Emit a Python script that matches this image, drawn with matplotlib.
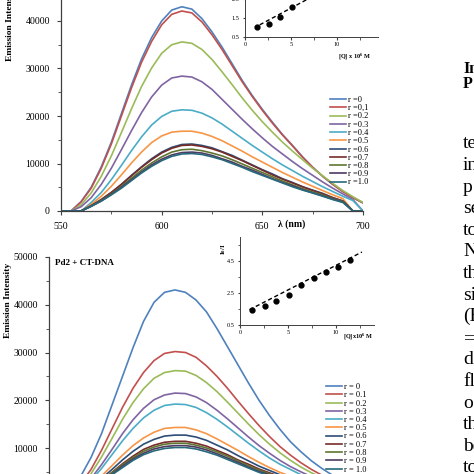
import matplotlib
matplotlib.use('Agg')
from matplotlib import pyplot as plt
from matplotlib.ticker import MultipleLocator
import numpy

plt.rcParams['font.family'] = ['Liberation Serif', 'DejaVu Serif']
plt.rcParams['mathtext.fontset'] = 'custom'
plt.rcParams['mathtext.rm'] = 'Liberation Serif'
plt.rcParams['mathtext.it'] = 'Liberation Serif:italic'
plt.rcParams['mathtext.bf'] = 'Liberation Serif:bold'
plt.rcParams['mathtext.default'] = 'regular'

# wavelength grid (nm)
wavelength = [550, 555, 560, 565, 570, 575, 580, 585, 590, 595, 600,
              605, 610, 615, 620, 625, 630, 635, 640, 645, 650,
              655, 660, 665, 670, 675, 680, 685, 690, 695, 700]

# upper panel, emission intensity / 1000
top_00 = [0, 0, 2.0, 5.0, 9.3, 14.5, 20.5, 26.5, 32.0, 36.5, 40.0, 42.3, 43.0, 42.5, 40.5, 37.7,
          34.5, 31.0, 27.5, 24.3, 21.4, 18.7, 16.1, 13.8, 11.4, 9.2, 7.3, 5.6, 4.1, 2.8, 1.7]
top_01 = [0, 0, 1.9, 4.8, 9.0, 14.1, 20.0, 25.9, 31.3, 35.7, 39.2, 41.4, 42.1, 41.7, 39.8, 37.1,
          34.0, 30.6, 27.2, 24.1, 21.2, 18.5, 16.0, 13.7, 11.3, 9.2, 7.3, 5.6, 4.1, 2.8, 1.7]
top_02 = [0, 0, 1.3, 3.8, 7.3, 11.6, 16.5, 21.5, 26.2, 30.1, 33.2, 35.0, 35.6, 35.3, 34.0, 31.9,
          29.3, 26.6, 23.8, 21.2, 18.8, 16.6, 14.5, 12.6, 10.8, 9.0, 7.4, 5.8, 4.3, 3.0, 1.8]
top_03 = [0, 0, 0.9, 2.8, 5.6, 9.0, 12.9, 16.9, 20.7, 24.0, 26.5, 28.0, 28.4, 28.2, 27.2, 25.6,
          23.5, 21.4, 19.3, 17.3, 15.4, 13.6, 12.0, 10.4, 8.9, 7.5, 6.1, 4.8, 3.6, 2.4, 0]
top_04 = [0, 0, 0, 1.8, 3.9, 6.6, 9.6, 12.7, 15.6, 18.1, 19.9, 21.0, 21.3, 21.2, 20.6, 19.6,
          18.3, 16.8, 15.3, 13.8, 12.4, 11.0, 9.7, 8.5, 7.3, 6.2, 5.1, 4.1, 3.1, 2.2, 0]
top_05 = [0, 0, 0, 1.4, 3.1, 5.2, 7.6, 10.1, 12.4, 14.4, 15.8, 16.6, 16.8, 16.8, 16.4, 15.7,
          14.8, 13.7, 12.6, 11.4, 10.3, 9.2, 8.1, 7.1, 6.1, 5.2, 4.3, 3.4, 2.6, 0, 0]
top_06 = [0, 0, 0, 1.1, 2.4, 3.9, 5.6, 7.5, 9.3, 11.0, 12.4, 13.4, 14.0, 14.1, 13.8, 13.3,
          12.5, 11.7, 10.7, 9.7, 8.7, 7.8, 6.8, 6.0, 5.1, 4.4, 3.7, 2.8, 2.1, 0, 0]
top_07 = [0, 0, 0, 1.1, 2.4, 3.9, 5.6, 7.4, 9.2, 10.8, 12.2, 13.2, 13.8, 13.9, 13.6, 13.1,
          12.4, 11.5, 10.6, 9.6, 8.6, 7.6, 6.7, 5.9, 5.1, 4.3, 3.6, 2.8, 2.1, 0, 0]
top_08 = [0, 0, 0, 1.0, 2.2, 3.6, 5.2, 6.9, 8.6, 10.1, 11.4, 12.4, 12.9, 13.0, 12.7, 12.2,
          11.6, 10.8, 9.9, 9.0, 8.1, 7.2, 6.3, 5.5, 4.7, 4.0, 3.4, 2.6, 2.0, 0, 0]
top_09 = [0, 0, 0, 1.0, 2.1, 3.5, 5.0, 6.6, 8.2, 9.7, 10.9, 11.8, 12.3, 12.4, 12.2, 11.7,
          11.0, 10.3, 9.4, 8.6, 7.7, 6.8, 6.0, 5.3, 4.5, 3.8, 3.2, 2.5, 1.9, 0, 0]
top_10 = [0, 0, 0, 1.0, 2.1, 3.4, 4.8, 6.4, 8.0, 9.4, 10.6, 11.5, 12.0, 12.1, 11.9, 11.4,
          10.8, 10.0, 9.2, 8.3, 7.5, 6.7, 5.9, 5.1, 4.4, 3.8, 3.1, 2.4, 1.8, 0, 0]

# lower panel (Pd2 + CT-DNA), emission intensity / 1000
bot_00 = [0, 0, 1.5, 4.0, 8.0, 13.0, 19.0, 25.0, 31.0, 36.5, 40.5, 42.6, 43.1, 42.6, 41.0, 38.5,
          35.0, 31.2, 27.4, 23.6, 20.0, 16.8, 13.9, 11.3, 9.2, 7.3, 5.7, 4.3, 3.1, 2.0, 1.2]
bot_01 = [0, 0, 0, 2.5, 5.5, 9.5, 14.0, 18.5, 22.5, 25.8, 28.3, 29.8, 30.2, 30.0, 29.0, 27.2,
          25.0, 22.5, 19.8, 17.2, 14.7, 12.4, 10.3, 8.5, 6.9, 5.5, 4.3, 3.3, 2.4, 1.6, 1.0]
bot_02 = [0, 0, 0, 2.0, 4.6, 8.1, 12.0, 16.0, 19.5, 22.4, 24.6, 25.8, 26.2, 26.1, 25.2, 23.7,
          21.8, 19.6, 17.3, 15.0, 12.8, 10.8, 9.0, 7.4, 6.0, 4.8, 3.8, 2.9, 2.1, 1.4, 0.9]
bot_03 = [0, 0, 0, 1.5, 3.6, 6.5, 9.7, 13.0, 15.9, 18.3, 20.1, 21.1, 21.5, 21.4, 20.7, 19.5,
          17.9, 16.1, 14.2, 12.3, 10.5, 8.9, 7.4, 6.1, 5.0, 4.0, 3.1, 2.4, 1.7, 1.2, 0.7]
bot_04 = [0, 0, 0, 1.3, 3.2, 5.7, 8.6, 11.5, 14.1, 16.3, 17.9, 18.9, 19.2, 19.1, 18.5, 17.4,
          16.0, 14.4, 12.7, 11.0, 9.4, 7.9, 6.6, 5.5, 4.4, 3.5, 2.8, 2.1, 1.5, 1.0, 0.6]
bot_05 = [0, 0, 0, 1.0, 2.3, 4.1, 6.3, 8.5, 10.5, 12.1, 13.3, 14.1, 14.3, 14.3, 13.8, 13.0,
          11.9, 10.7, 9.5, 8.2, 7.0, 5.9, 4.9, 4.1, 3.3, 2.6, 2.1, 1.6, 1.1, 0.8, 0.5]
bot_06 = [0, 0, 0, 0.8, 2.0, 3.6, 5.5, 7.5, 9.3, 10.8, 11.8, 12.5, 12.7, 12.7, 12.3, 11.6,
          10.6, 9.6, 8.4, 7.3, 6.2, 5.3, 4.4, 3.6, 2.9, 2.3, 1.8, 1.4, 1.0, 0.7, 0.4]
bot_07 = [0, 0, 0, 0.7, 1.8, 3.2, 4.9, 6.7, 8.3, 9.7, 10.6, 11.2, 11.4, 11.4, 11.0, 10.4,
          9.5, 8.6, 7.5, 6.6, 5.6, 4.8, 4.0, 3.2, 2.6, 2.1, 1.6, 1.3, 0.9, 0.6, 0.4]
bot_08 = [0, 0, 0, 0.7, 1.7, 3.1, 4.8, 6.5, 8.0, 9.3, 10.2, 10.8, 11.0, 11.0, 10.6, 10.0,
          9.2, 8.3, 7.3, 6.3, 5.4, 4.6, 3.8, 3.1, 2.5, 2.0, 1.6, 1.2, 0.9, 0.6, 0.4]
bot_09 = [0, 0, 0, 0.7, 1.7, 3.0, 4.5, 6.2, 7.7, 8.9, 9.8, 10.3, 10.5, 10.5, 10.2, 9.6,
          8.8, 7.9, 7.0, 6.0, 5.1, 4.4, 3.6, 3.0, 2.4, 1.9, 1.5, 1.1, 0.8, 0.6, 0.3]
bot_10 = [0, 0, 0, 0.6, 1.6, 2.9, 4.4, 5.9, 7.4, 8.6, 9.4, 9.9, 10.1, 10.1, 9.8, 9.2,
          8.5, 7.6, 6.7, 5.8, 4.9, 4.2, 3.5, 2.9, 2.3, 1.8, 1.4, 1.1, 0.8, 0.5, 0.3]

top_labels = ['r =0', 'r =0,1', 'r =0.2', 'r =0.3', 'r =0.4', 'r =0.5',
              'r =0.6', 'r =0.7', 'r =0.8', 'r =0.9', 'r =1.0']
bot_labels = ['r = 0', 'r = 0.1', 'r = 0.2', 'r = 0.3', 'r = 0.4', 'r = 0.5',
              'r = 0.6', 'r = 0.7', 'r = 0.8', 'r = 0.9', 'r = 1.0']

colors = ['#4F81BD', '#C0504D', '#9BBB59', '#8064A2', '#4BACC6', '#F79646',
          '#2C4D75', '#772C2A', '#5F7530', '#4D3B62', '#276A7C']

# Stern-Volmer insets: [Q] x 10^6 M vs I0/I
top_q = [1.3, 2.6, 3.8, 5.1]
top_ratio = [1.03, 1.18, 1.57, 2.1]
top_fit_q = [1.6, 13.0]
top_fit_ratio = [1.14, 4.1]

bot_q = [1.3, 2.6, 3.8, 5.1, 6.35, 7.7, 8.96, 10.2, 11.5]
bot_ratio = [1.42, 1.67, 2.02, 2.39, 2.97, 3.42, 3.84, 4.1, 4.54]
bot_fit_q = [1.0, 12.7]
bot_fit_ratio = [1.46, 5.06]

# right-hand page text that is cut by the crop
heading = ['In', 'P']
body = ['te', 'in', 'p', 'se', 'to', 'N', 'th', 'si', '(F', '=',
        'd', 'fl', 'o', 'th', 'be', 'to']

W = 474.0


def px(x, y, w, h):
    # pixel box (left, top-of-data-range, width, height) -> figure fraction
    return [x / W, 1 - (y + h) / W, w / W, h / W]


def styleMain(ax):
    for s in ['top', 'right']:
        ax.spines[s].set_visible(False)
    for s in ['left', 'bottom']:
        ax.spines[s].set_color('#404040')
        ax.spines[s].set_linewidth(0.9)
    ax.set_xlim(550, 700)
    ax.set_ylim(0, 50000)
    ax.xaxis.set_major_locator(MultipleLocator(50))
    ax.xaxis.set_minor_locator(MultipleLocator(25))
    ax.yaxis.set_major_locator(MultipleLocator(10000))
    ax.yaxis.set_minor_locator(MultipleLocator(5000))
    ax.tick_params(which='both', direction='out', color='#404040', labelsize=7)
    ax.tick_params(which='major', length=3, pad=5)
    ax.tick_params(which='minor', length=2)


def styleInset(ax, ymax, xmax):
    ax.patch.set_alpha(0)
    for s in ['top', 'right']:
        ax.spines[s].set_visible(False)
    for s in ['left', 'bottom']:
        ax.spines[s].set_color('#404040')
        ax.spines[s].set_linewidth(0.7)
    ax.set_xlim(0, xmax)
    ax.set_ylim(0.5, ymax)
    ax.xaxis.set_major_locator(MultipleLocator(5))
    ax.xaxis.set_minor_locator(MultipleLocator(2.5))
    ax.tick_params(which='both', direction='out', color='#404040', labelsize=4.5,
                   length=1.8, pad=2)


def main():

    fig = plt.figure(figsize=(4.74, 4.74), dpi=100)

    # ---- upper panel
    ax1 = fig.add_axes(px(61, -26.5, 302, 237.5))
    top = [top_00, top_01, top_02, top_03, top_04, top_05,
           top_06, top_07, top_08, top_09, top_10]
    for i in range(len(top)):
        ax1.plot(wavelength, numpy.array(top[i]) * 1000, color=colors[i],
                 linewidth=1.2, label=top_labels[i])
    styleMain(ax1)
    ax1.set_ylabel('Emission Intensity', fontsize=6.8, fontweight='bold')
    ax1.yaxis.set_label_coords(-0.155, 0.79)
    ax1.set_xlabel('λ (nm)', fontsize=7, fontweight='bold')
    ax1.xaxis.set_label_coords(0.765, -0.035)
    fig.legend(*ax1.get_legend_handles_labels(), loc='upper left',
               bbox_to_anchor=(330 / W, 1 - 96 / W),
               frameon=False, fontsize=6, handlelength=1.9, handletextpad=0.2,
               labelspacing=0.03, borderpad=0, borderaxespad=0)

    # ---- lower panel
    ax2 = fig.add_axes(px(49, 257, 315, 238.75))
    bot = [bot_00, bot_01, bot_02, bot_03, bot_04, bot_05,
           bot_06, bot_07, bot_08, bot_09, bot_10]
    for i in range(len(bot)):
        ax2.plot(wavelength, numpy.array(bot[i]) * 1000, color=colors[i],
                 linewidth=1.2, label=bot_labels[i])
    styleMain(ax2)
    ax2.set_ylabel('Emission Intensity', fontsize=6.8, fontweight='bold')
    ax2.yaxis.set_label_coords(-0.117, 0.816)
    ax2.text(0.02, 0.975, 'Pd2 + CT-DNA', transform=ax2.transAxes,
             fontsize=6.5, fontweight='bold', va='center', ha='left')
    fig.legend(*ax2.get_legend_handles_labels(), loc='upper left',
               bbox_to_anchor=(326 / W, 1 - 383 / W),
               frameon=False, fontsize=6, handlelength=1.9, handletextpad=0.2,
               labelspacing=0.03, borderpad=0, borderaxespad=0)

    # ---- upper inset
    ins1 = fig.add_axes(px(245, 37 - 4.5 * 19, 14.5 * 9.2, 4.5 * 19))
    ins1.plot(top_fit_q, top_fit_ratio, color='black', linestyle=(0, (3, 2)),
              linewidth=1.0)
    ins1.plot(top_q, top_ratio, 'o', color='black', markersize=3.5)
    styleInset(ins1, 5.0, 14.5)
    ins1.yaxis.set_major_locator(MultipleLocator(1, offset=0.5))
    ins1.set_xlabel('[Q] x 10$^{6}$ M', fontsize=4.5, fontweight='bold', ha='left')
    ins1.xaxis.set_label_coords(0.70, -0.17)

    # ---- lower inset
    ins2 = fig.add_axes(px(240, 325 - 5.5 * 16, 14 * 9.6, 5.5 * 16))
    ins2.plot(bot_fit_q, bot_fit_ratio, color='black', linestyle=(0, (3, 2)),
              linewidth=1.0)
    ins2.plot(bot_q, bot_ratio, 'o', color='black', markersize=3.5)
    styleInset(ins2, 6.0, 14)
    ins2.yaxis.set_major_locator(MultipleLocator(2, offset=0.5))
    ins2.yaxis.set_minor_locator(MultipleLocator(1, offset=0.5))
    ins2.set_xlabel('[Q]x10$^{6}$ M', fontsize=4.5, fontweight='bold', ha='left')
    ins2.xaxis.set_label_coords(0.765, -0.075)
    ins2.set_ylabel('I$_0$/I', fontsize=5, fontweight='bold')
    ins2.yaxis.set_label_coords(-0.09, 0.86)

    # ---- page text at the right edge
    fig.text(463 / W, 1 - 73.5 / W, heading[0], fontsize=11.5, fontweight='bold')
    fig.text(463 / W, 1 - 87.5 / W, heading[1], fontsize=11.5, fontweight='bold')
    for i in range(len(body)):
        fig.text(463 / W, 1 - (148.3 + 21.6 * i) / W, body[i], fontsize=14,
                 va='baseline')

    plt.savefig('out.png', dpi=100)


if __name__ == '__main__':
    main()
